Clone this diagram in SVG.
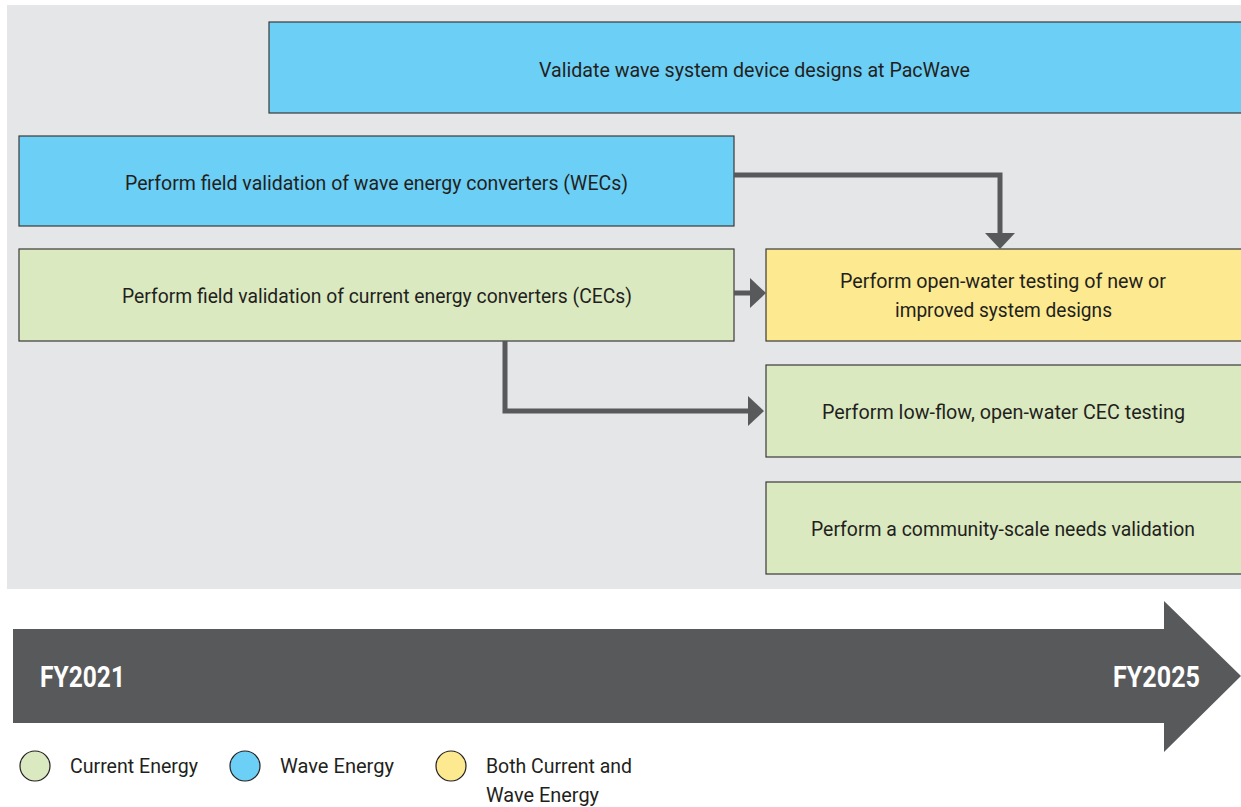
<svg xmlns="http://www.w3.org/2000/svg" width="1241" height="807" viewBox="0 0 1241 807">
<style>
.box{stroke:#3a3a3a;stroke-width:1.2}
.wave{fill:#6ccff6}
.cur{fill:#dbe9c1}
.both{fill:#fde98f}
.t{font-family:"Roboto","Liberation Sans",sans-serif;font-size:20px;fill:#231f20;text-anchor:middle}
.lg{font-family:"Roboto","Liberation Sans",sans-serif;font-size:20px;fill:#231f20}
.fy{font-family:"Roboto","Liberation Sans",sans-serif;font-size:29px;font-weight:bold;fill:#ffffff}
.conn{fill:none;stroke:#58595b;stroke-width:5}
</style>
<defs>
<marker id="ah" markerWidth="6" markerHeight="6" refX="0" refY="3" orient="auto" markerUnits="strokeWidth">
<path d="M0,0 L3.2,3 L0,6 Z" fill="#58595b"/>
</marker>
</defs>
<rect x="0" y="0" width="1241" height="807" fill="#ffffff"/>
<rect x="7" y="5" width="1234" height="584" fill="#e5e6e8"/>

<g id="n-pacwave">
<rect class="box wave" x="269" y="22" width="975" height="91"/>
<text class="t" x="754.5" y="77" textLength="431" lengthAdjust="spacingAndGlyphs">Validate wave system device designs at PacWave</text>
</g>
<g id="n-wec">
<rect class="box wave" x="19" y="136" width="715" height="90"/>
<text class="t" x="376.5" y="190" textLength="503" lengthAdjust="spacingAndGlyphs">Perform field validation of wave energy converters (WECs)</text>
</g>
<g id="n-cec">
<rect class="box cur" x="19" y="249" width="715" height="92"/>
<text class="t" x="377" y="303" textLength="510" lengthAdjust="spacingAndGlyphs">Perform field validation of current energy converters (CECs)</text>
</g>
<g id="n-open">
<rect class="box both" x="766" y="249" width="478" height="92"/>
<text class="t" x="1003" y="288" textLength="326" lengthAdjust="spacingAndGlyphs">Perform open-water testing of new or</text>
<text class="t" x="1003.5" y="317" textLength="217" lengthAdjust="spacingAndGlyphs">improved system designs</text>
</g>
<g id="n-lowflow">
<rect class="box cur" x="766" y="365" width="478" height="92"/>
<text class="t" x="1003.5" y="419" textLength="363" lengthAdjust="spacingAndGlyphs">Perform low-flow, open-water CEC testing</text>
</g>
<g id="n-community">
<rect class="box cur" x="766" y="482" width="478" height="92"/>
<text class="t" x="1003" y="536" textLength="384" lengthAdjust="spacingAndGlyphs">Perform a community-scale needs validation</text>
</g>

<g id="connectors">
<path class="conn" d="M734,175 H1000 V233" marker-end="url(#ah)"/>
<path class="conn" d="M734,293 H750" marker-end="url(#ah)"/>
<path class="conn" d="M505,341 V411 H748" marker-end="url(#ah)"/>
</g>

<g id="timeline">
<path d="M13,629 H1164 V601 L1241,676 L1164,752 V723 H13 Z" fill="#58595b"/>
<text class="fy" x="40" y="687" textLength="85" lengthAdjust="spacingAndGlyphs">FY2021</text>
<text class="fy" x="1113" y="687" textLength="87" lengthAdjust="spacingAndGlyphs">FY2025</text>
</g>

<g id="legend">
<circle cx="35" cy="766" r="15" fill="#dbe9c1" stroke="#231f20" stroke-width="1.2"/>
<text class="lg" x="70" y="773" textLength="128" lengthAdjust="spacingAndGlyphs">Current Energy</text>
<circle cx="245" cy="766" r="15" fill="#6ccff6" stroke="#231f20" stroke-width="1.2"/>
<text class="lg" x="280" y="773" textLength="114" lengthAdjust="spacingAndGlyphs">Wave Energy</text>
<circle cx="451" cy="766" r="15" fill="#fde98f" stroke="#231f20" stroke-width="1.2"/>
<text class="lg" x="486" y="773" textLength="146" lengthAdjust="spacingAndGlyphs">Both Current and</text>
<text class="lg" x="486" y="802" textLength="113" lengthAdjust="spacingAndGlyphs">Wave Energy</text>
</g>
</svg>
